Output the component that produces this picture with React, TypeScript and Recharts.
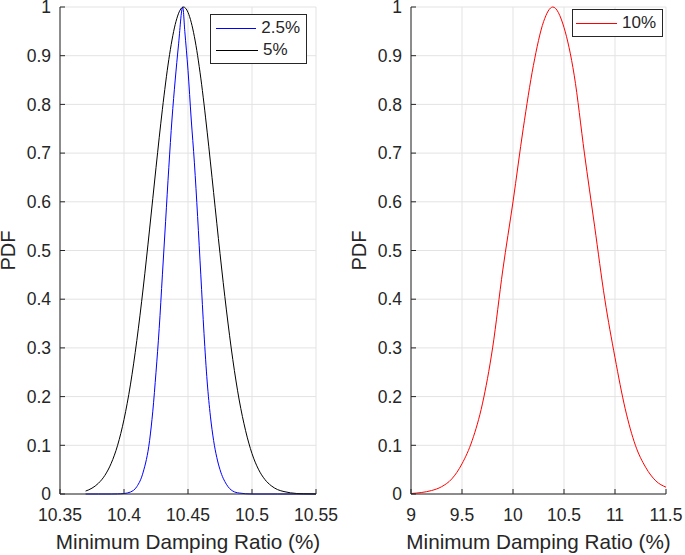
import {
  LineChart,
  Line,
  XAxis,
  YAxis,
  CartesianGrid,
  Legend,
  Label,
} from "recharts";

// tick values
const leftXTicks = [10.35, 10.4, 10.45, 10.5, 10.55];
const rightXTicks = [9, 9.5, 10, 10.5, 11, 11.5];
const yTicks = [0, 0.1, 0.2, 0.3, 0.4, 0.5, 0.6, 0.7, 0.8, 0.9, 1];

// 2.5% (blue)
const blueX = [
  10.37, 10.38, 10.39, 10.395, 10.4, 10.405, 10.41, 10.415, 10.42, 10.4225,
  10.425, 10.4275, 10.43, 10.4325, 10.435, 10.4375, 10.44, 10.4425, 10.4459,
  10.4475, 10.45, 10.4525, 10.455, 10.4575, 10.46, 10.4625, 10.465, 10.4675,
  10.47, 10.4725, 10.475, 10.48, 10.485, 10.49, 10.5, 10.52, 10.55,
];
const blueY = [
  0, 0, 0, 0.0002, 0.001, 0.004, 0.015, 0.045, 0.11, 0.17,
  0.25, 0.34, 0.45, 0.56, 0.67, 0.77, 0.85, 0.92, 1.0,
  0.95, 0.87, 0.77, 0.68, 0.57, 0.45, 0.33, 0.23, 0.16,
  0.11, 0.075, 0.05, 0.02, 0.006, 0.002, 0, 0, 0,
];

// 5% (black)
const blackX = [
  10.37, 10.375, 10.38, 10.385, 10.39, 10.395, 10.4, 10.405, 10.41, 10.415,
  10.42, 10.425, 10.43, 10.435, 10.44, 10.445, 10.4465, 10.45, 10.455, 10.46,
  10.465, 10.47, 10.475, 10.48, 10.485, 10.49, 10.495, 10.5, 10.505, 10.51,
  10.515, 10.52, 10.525, 10.53, 10.535, 10.54, 10.55,
];
const blackY = [
  0.006, 0.012, 0.022, 0.038, 0.063, 0.1, 0.153, 0.224, 0.315, 0.423,
  0.544, 0.67, 0.79, 0.892, 0.964, 0.998, 1.0, 0.989, 0.939, 0.854,
  0.743, 0.619, 0.494, 0.378, 0.276, 0.193, 0.13, 0.083, 0.051, 0.03,
  0.017, 0.009, 0.005, 0.0024, 0.001, 0.0005, 0.0001,
];

// 10% (red)
const redX = [
  9, 9.1, 9.2, 9.3, 9.4, 9.5, 9.6, 9.7, 9.8, 9.9, 10, 10.1, 10.2, 10.3, 10.39,
  10.5, 10.6, 10.7, 10.8, 10.9, 11, 11.1, 11.2, 11.3, 11.4, 11.5,
];
const redY = [
  0.001, 0.003, 0.007, 0.015, 0.031, 0.062, 0.11, 0.185, 0.3, 0.46, 0.6,
  0.75, 0.88, 0.97, 1.0, 0.958, 0.86, 0.7, 0.55, 0.4, 0.28, 0.175, 0.1,
  0.055, 0.027, 0.014,
];

const toPoints = (xs: number[], ys: number[]) =>
  xs.map((x, i) => ({ x, y: ys[i] }));

const AXIS = "#262626";
const GRID = "#e3e3e3";
const FONT = "'Liberation Sans', Arial, Helvetica, sans-serif";

type Series = { name: string; color: string; data: { x: number; y: number }[] };

function renderLegend(series: Series[], padLeft: number) {
  return () => (
    <div
      style={{
        border: `1px solid ${AXIS}`,
        background: "#fff",
        padding: `2px 6px 2px ${padLeft}px`,
        fontFamily: FONT,
        fontSize: 17,
        color: AXIS,
      }}
    >
      {series.map((s) => (
        <div
          key={s.name}
          style={{ display: "flex", alignItems: "center", height: 22 }}
        >
          <span
            style={{
              display: "inline-block",
              width: 42,
              height: 0,
              borderTop: `1px solid ${s.color}`,
              marginRight: 5,
            }}
          />
          <span>{s.name}</span>
        </div>
      ))}
    </div>
  );
}

function Panel({
  left,
  width,
  yAxisWidth,
  marginRight,
  domain,
  xTicks,
  series,
  legendPos,
  yLabelX,
}: {
  left: number;
  width: number;
  yAxisWidth: number;
  marginRight: number;
  domain: [number, number];
  xTicks: number[];
  series: Series[];
  legendPos: { left: number; top: number; width: number; padLeft: number };
  yLabelX: number;
}) {
  const plotCenterX = yAxisWidth + (width - yAxisWidth - marginRight) / 2;
  const tickStyle = { fill: AXIS, fontSize: 17.5, fontFamily: FONT };
  return (
    <div style={{ position: "absolute", left, top: 0 }}>
      <LineChart
        width={width}
        height={555}
        margin={{ top: 7, right: marginRight, bottom: 0, left: 0 }}
      >
        <CartesianGrid stroke={GRID} strokeWidth={1} />
        <XAxis
          type="number"
          dataKey="x"
          domain={domain}
          ticks={xTicks}
          interval={0}
          allowDataOverflow
          height={61}
          tickSize={-5}
          tickMargin={20}
          axisLine={{ stroke: AXIS }}
          tickLine={{ stroke: AXIS }}
          tick={tickStyle}
        >
          <Label
            content={() => (
              <text
                x={plotCenterX}
                y={549}
                textAnchor="middle"
                fill={AXIS}
                fontSize={20.7}
                fontFamily={FONT}
              >
                Minimum Damping Ratio (%)
              </text>
            )}
          />
        </XAxis>
        <XAxis
          xAxisId="top"
          orientation="top"
          type="number"
          dataKey="x"
          domain={domain}
          ticks={xTicks}
          interval={0}
          allowDataOverflow
          height={0}
          tickSize={-5}
          tick={false}
          axisLine={{ stroke: AXIS }}
          tickLine={{ stroke: AXIS }}
        />
        <YAxis
          type="number"
          domain={[0, 1]}
          ticks={yTicks}
          interval={0}
          width={yAxisWidth}
          tickSize={-5}
          tickMargin={14}
          axisLine={{ stroke: AXIS }}
          tickLine={{ stroke: AXIS }}
          tick={tickStyle}
        >
          <Label
            content={() => (
              <text
                x={yLabelX}
                y={250.5}
                transform={`rotate(-90, ${yLabelX}, 250.5)`}
                textAnchor="middle"
                fill={AXIS}
                fontSize={20}
                fontFamily={FONT}
              >
                PDF
              </text>
            )}
          />
        </YAxis>
        <YAxis
          yAxisId="right"
          orientation="right"
          type="number"
          domain={[0, 1]}
          ticks={yTicks}
          interval={0}
          width={0}
          tickSize={-5}
          tick={false}
          axisLine={{ stroke: AXIS }}
          tickLine={{ stroke: AXIS }}
        />
        <Legend
          layout="vertical"
          align="center"
          verticalAlign="middle"
          wrapperStyle={{
            left: legendPos.left,
            top: legendPos.top,
            width: legendPos.width,
          }}
          content={renderLegend(series, legendPos.padLeft)}
        />
        {series.map((s) => (
          <Line
            key={s.name}
            name={s.name}
            data={s.data}
            dataKey="y"
            type="monotone"
            stroke={s.color}
            strokeWidth={1}
            dot={false}
            activeDot={false}
            isAnimationActive={false}
          />
        ))}
      </LineChart>
    </div>
  );
}

export default function App() {
  return (
    <div
      style={{
        position: "absolute",
        left: 0,
        top: 0,
        width: 685,
        height: 555,
        background: "#fff",
        overflow: "hidden",
      }}
    >
      <Panel
        left={0}
        width={340}
        yAxisWidth={60}
        marginRight={24}
        domain={[10.35, 10.55]}
        xTicks={leftXTicks}
        series={[
          { name: "2.5%", color: "#0000ff", data: toPoints(blueX, blueY) },
          { name: "5%", color: "#000000", data: toPoints(blackX, blackY) },
        ]}
        legendPos={{ left: 210, top: 14, width: 97, padLeft: 5 }}
        yLabelX={15}
      />
      <Panel
        left={340}
        width={345}
        yAxisWidth={71}
        marginRight={19}
        domain={[9, 11.5]}
        xTicks={rightXTicks}
        series={[{ name: "10%", color: "#ff0000", data: toPoints(redX, redY) }]}
        legendPos={{ left: 232, top: 9, width: 91, padLeft: 3 }}
        yLabelX={25.5}
      />
    </div>
  );
}
